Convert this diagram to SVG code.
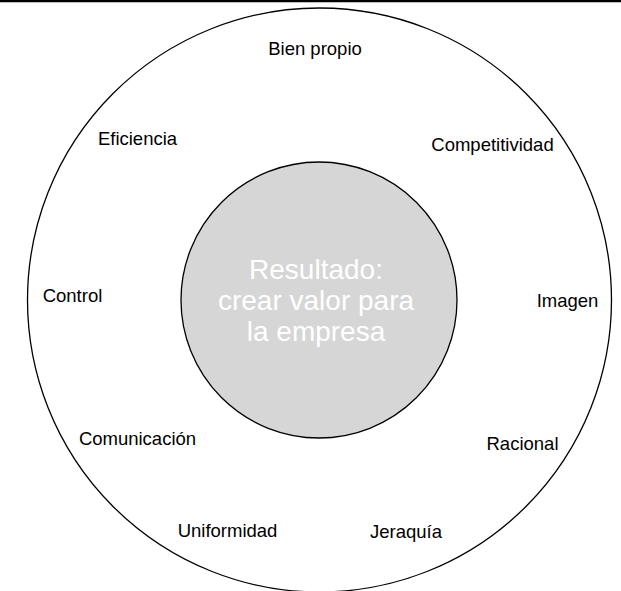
<svg xmlns="http://www.w3.org/2000/svg" width="621" height="591" viewBox="0 0 621 591">
<style>
.lbl{font-family:"Liberation Sans",Arial,sans-serif;font-size:18.5px;fill:#000;text-anchor:middle}
.ctr{font-family:"Liberation Sans",Arial,sans-serif;font-size:28px;fill:#fff;text-anchor:middle}
</style>
<rect width="621" height="591" fill="#fff"/>
<line x1="0" y1="1" x2="621" y2="1" stroke="#000" stroke-width="2.5"/>
<g id="outer">
<circle cx="319.5" cy="300" r="292" fill="none" stroke="#000" stroke-width="1.3"/>
</g>
<g id="center">
<circle cx="319" cy="300" r="138" fill="#d6d6d6" stroke="#000" stroke-width="1.3"/>
<text class="ctr" x="316" y="279">Resultado:</text>
<text class="ctr" x="316" y="310">crear valor para</text>
<text class="ctr" x="316" y="341">la empresa</text>
</g>
<g id="bien-propio"><text class="lbl" x="315" y="55">Bien propio</text></g>
<g id="eficiencia"><text class="lbl" x="137.5" y="145">Eficiencia</text></g>
<g id="competitividad"><text class="lbl" x="492.5" y="151">Competitividad</text></g>
<g id="control"><text class="lbl" x="72.5" y="302">Control</text></g>
<g id="imagen"><text class="lbl" x="567.5" y="307">Imagen</text></g>
<g id="comunicacion"><text class="lbl" x="137.5" y="445">Comunicación</text></g>
<g id="racional"><text class="lbl" x="522.5" y="450">Racional</text></g>
<g id="uniformidad"><text class="lbl" x="227.5" y="537">Uniformidad</text></g>
<g id="jeraquia"><text class="lbl" x="406" y="538">Jeraquía</text></g>
<g id="connectors"></g>
</svg>
